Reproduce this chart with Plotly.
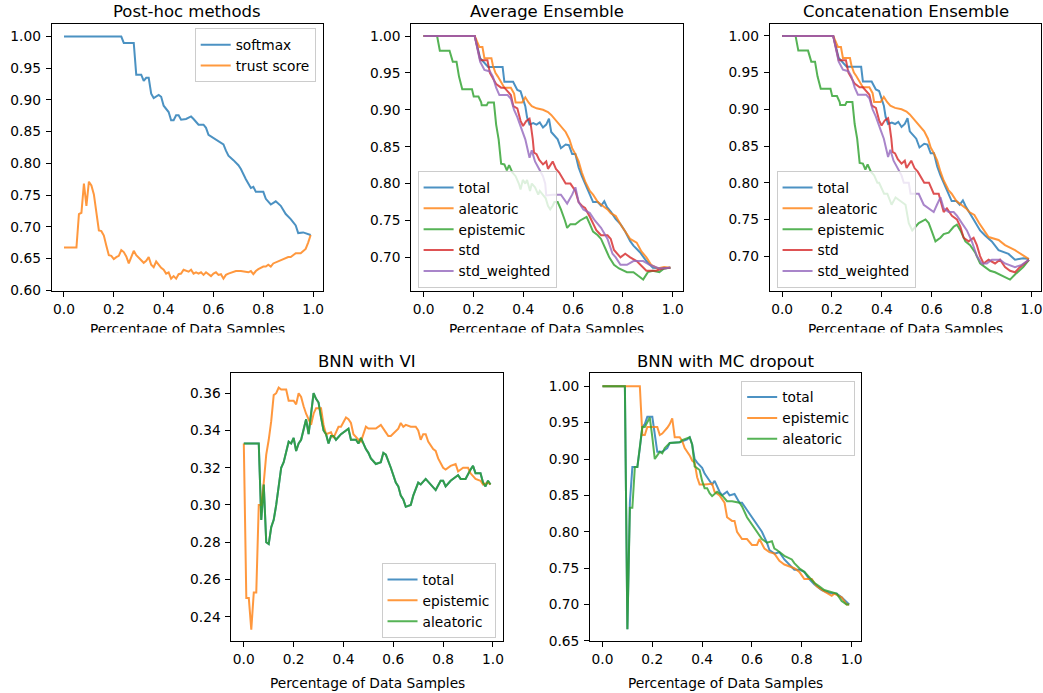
import plotly.graph_objects as go

# ---------------- data ----------------
x_ticks = [0.0, 0.2, 0.4, 0.6, 0.8, 1.0]
x_label = "Percentage of Data Samples"

# Post-hoc methods
ph_softmax = [(0, 1.0), (0.23, 1.0), (0.24, 0.99), (0.28, 0.99), (0.29, 0.94), (0.31, 0.94), (0.32, 0.93), (0.33, 0.935),
              (0.34, 0.935), (0.35, 0.91), (0.36, 0.903), (0.38, 0.908), (0.39, 0.905), (0.40, 0.891), (0.42, 0.881),
              (0.43, 0.868), (0.44, 0.868), (0.45, 0.876), (0.46, 0.876), (0.47, 0.869), (0.49, 0.870), (0.51, 0.874),
              (0.52, 0.870), (0.53, 0.866), (0.54, 0.861), (0.56, 0.861), (0.57, 0.856), (0.58, 0.845), (0.60, 0.840),
              (0.61, 0.837), (0.63, 0.832), (0.64, 0.830), (0.65, 0.820), (0.66, 0.812), (0.68, 0.805), (0.70, 0.797),
              (0.71, 0.791), (0.72, 0.782), (0.73, 0.775), (0.75, 0.761), (0.76, 0.763), (0.77, 0.755), (0.80, 0.755),
              (0.81, 0.744), (0.83, 0.735), (0.85, 0.740), (0.87, 0.733), (0.89, 0.720), (0.91, 0.712), (0.93, 0.702),
              (0.94, 0.690), (0.96, 0.691), (0.97, 0.690), (0.98, 0.689), (0.99, 0.687)]
ph_trust = [(0, 0.667), (0.05, 0.667), (0.06, 0.720), (0.07, 0.722), (0.08, 0.768), (0.09, 0.733), (0.10, 0.771),
            (0.11, 0.765), (0.12, 0.751), (0.13, 0.725), (0.14, 0.694), (0.15, 0.693), (0.16, 0.686), (0.17, 0.670),
            (0.18, 0.655), (0.19, 0.654), (0.20, 0.649), (0.21, 0.652), (0.22, 0.654), (0.23, 0.663), (0.24, 0.660),
            (0.25, 0.653), (0.26, 0.642), (0.27, 0.652), (0.28, 0.662), (0.29, 0.655), (0.30, 0.651), (0.31, 0.648),
            (0.32, 0.643), (0.33, 0.646), (0.34, 0.652), (0.35, 0.640), (0.36, 0.636), (0.37, 0.645), (0.38, 0.640),
            (0.39, 0.635), (0.40, 0.632), (0.41, 0.626), (0.42, 0.628), (0.43, 0.618), (0.44, 0.622), (0.45, 0.618),
            (0.46, 0.625), (0.47, 0.626), (0.48, 0.632), (0.49, 0.631), (0.50, 0.629), (0.51, 0.632), (0.52, 0.626),
            (0.53, 0.628), (0.54, 0.626), (0.55, 0.628), (0.56, 0.624), (0.57, 0.628), (0.58, 0.625), (0.59, 0.622),
            (0.60, 0.626), (0.61, 0.628), (0.62, 0.624), (0.63, 0.625), (0.64, 0.618), (0.65, 0.624), (0.66, 0.626),
            (0.68, 0.628), (0.69, 0.630), (0.71, 0.630), (0.73, 0.628), (0.74, 0.628), (0.75, 0.630), (0.76, 0.625),
            (0.77, 0.630), (0.78, 0.633), (0.80, 0.637), (0.81, 0.637), (0.82, 0.640), (0.83, 0.637), (0.84, 0.642),
            (0.86, 0.645), (0.88, 0.648), (0.90, 0.652), (0.91, 0.652), (0.93, 0.658), (0.95, 0.658), (0.97, 0.665),
            (0.98, 0.675), (0.99, 0.687)]

# Average Ensemble
avg_total = [(0, 1.0), (0.205, 1.0), (0.227, 0.970), (0.240, 0.965), (0.259, 0.958), (0.317, 0.958), (0.321, 0.950),
             (0.324, 0.938), (0.359, 0.938), (0.367, 0.932), (0.376, 0.927), (0.389, 0.925), (0.398, 0.915),
             (0.408, 0.905), (0.415, 0.890), (0.425, 0.880), (0.440, 0.882), (0.453, 0.880), (0.466, 0.883),
             (0.479, 0.876), (0.492, 0.880), (0.503, 0.888), (0.512, 0.870), (0.521, 0.866), (0.538, 0.860),
             (0.551, 0.848), (0.570, 0.853), (0.583, 0.852), (0.596, 0.840), (0.609, 0.840), (0.622, 0.822),
             (0.635, 0.810), (0.654, 0.795), (0.680, 0.775), (0.699, 0.775), (0.712, 0.770), (0.725, 0.776),
             (0.736, 0.768), (0.751, 0.762), (0.771, 0.752), (0.790, 0.745), (0.809, 0.735), (0.829, 0.722),
             (0.842, 0.716), (0.868, 0.707), (0.894, 0.695), (0.920, 0.686), (0.959, 0.685), (0.99, 0.686)]
avg_aleatoric = [(0, 1.0), (0.205, 1.0), (0.224, 0.985), (0.236, 0.985), (0.244, 0.970), (0.272, 0.970), (0.278, 0.960),
                 (0.288, 0.950), (0.298, 0.945), (0.311, 0.938), (0.324, 0.930), (0.350, 0.930), (0.363, 0.922),
                 (0.369, 0.910), (0.395, 0.910), (0.408, 0.917), (0.421, 0.910), (0.434, 0.905), (0.453, 0.902),
                 (0.479, 0.900), (0.499, 0.897), (0.512, 0.893), (0.531, 0.885), (0.551, 0.878), (0.570, 0.870),
                 (0.585, 0.860), (0.596, 0.848), (0.609, 0.840), (0.622, 0.830), (0.635, 0.815), (0.648, 0.803),
                 (0.667, 0.790), (0.680, 0.785), (0.699, 0.775), (0.719, 0.770), (0.738, 0.765), (0.751, 0.760),
                 (0.771, 0.756), (0.790, 0.745), (0.809, 0.735), (0.829, 0.725), (0.855, 0.720), (0.874, 0.708),
                 (0.894, 0.700), (0.913, 0.690), (0.939, 0.685), (0.965, 0.687), (0.99, 0.686)]
avg_epistemic = [(0, 1.0), (0.054, 1.0), (0.065, 0.980), (0.104, 0.980), (0.117, 0.965), (0.132, 0.965), (0.142, 0.945),
                 (0.155, 0.928), (0.194, 0.928), (0.201, 0.918), (0.220, 0.918), (0.231, 0.910), (0.233, 0.906),
                 (0.253, 0.906), (0.259, 0.910), (0.282, 0.910), (0.285, 0.900), (0.291, 0.880), (0.301, 0.860),
                 (0.306, 0.840), (0.311, 0.827), (0.324, 0.826), (0.334, 0.818), (0.343, 0.825), (0.356, 0.815),
                 (0.369, 0.810), (0.382, 0.800), (0.389, 0.792), (0.398, 0.805), (0.408, 0.800), (0.415, 0.805),
                 (0.427, 0.790), (0.434, 0.800), (0.447, 0.795), (0.460, 0.785), (0.466, 0.790), (0.479, 0.785),
                 (0.490, 0.780), (0.499, 0.770), (0.508, 0.765), (0.518, 0.770), (0.525, 0.775), (0.538, 0.775),
                 (0.551, 0.765), (0.567, 0.750), (0.576, 0.740), (0.589, 0.745), (0.609, 0.745), (0.628, 0.750),
                 (0.654, 0.755), (0.667, 0.745), (0.680, 0.735), (0.699, 0.730), (0.712, 0.725), (0.732, 0.710),
                 (0.745, 0.700), (0.764, 0.690), (0.784, 0.685), (0.816, 0.680), (0.842, 0.680), (0.861, 0.675),
                 (0.881, 0.670), (0.900, 0.680), (0.920, 0.682), (0.946, 0.680), (0.965, 0.685), (0.99, 0.686)]
avg_std = [(0, 1.0), (0.205, 1.0), (0.227, 0.967), (0.256, 0.967), (0.266, 0.950), (0.278, 0.942), (0.291, 0.935),
           (0.311, 0.930), (0.324, 0.930), (0.350, 0.920), (0.360, 0.905), (0.376, 0.902), (0.389, 0.885),
           (0.399, 0.878), (0.412, 0.885), (0.425, 0.888), (0.430, 0.880), (0.438, 0.860), (0.443, 0.842),
           (0.453, 0.840), (0.464, 0.832), (0.479, 0.826), (0.492, 0.830), (0.499, 0.820), (0.518, 0.830),
           (0.531, 0.820), (0.544, 0.815), (0.570, 0.800), (0.589, 0.800), (0.609, 0.790), (0.622, 0.775),
           (0.635, 0.770), (0.648, 0.767), (0.667, 0.755), (0.680, 0.745), (0.693, 0.737), (0.712, 0.730),
           (0.738, 0.730), (0.751, 0.725), (0.764, 0.710), (0.790, 0.700), (0.809, 0.705), (0.829, 0.700),
           (0.855, 0.695), (0.894, 0.682), (0.933, 0.682), (0.959, 0.685), (0.99, 0.686)]
avg_std_w = [(0, 1.0), (0.205, 1.0), (0.227, 0.965), (0.244, 0.954), (0.266, 0.952), (0.278, 0.945), (0.291, 0.930),
             (0.304, 0.920), (0.337, 0.920), (0.350, 0.915), (0.363, 0.900), (0.376, 0.890), (0.395, 0.872),
             (0.408, 0.860), (0.425, 0.835), (0.434, 0.845), (0.447, 0.830), (0.464, 0.820), (0.479, 0.810),
             (0.488, 0.800), (0.492, 0.784), (0.518, 0.785), (0.551, 0.785), (0.576, 0.773), (0.596, 0.785),
             (0.609, 0.795), (0.622, 0.775), (0.641, 0.765), (0.667, 0.760), (0.687, 0.750), (0.712, 0.740),
             (0.738, 0.725), (0.758, 0.705), (0.771, 0.700), (0.790, 0.690), (0.816, 0.690), (0.842, 0.695),
             (0.881, 0.695), (0.907, 0.690), (0.946, 0.685), (0.99, 0.686)]

# Concatenation Ensemble
cat_total = avg_total[:-11] + [(0.768, 0.750), (0.794, 0.735), (0.814, 0.728), (0.841, 0.720), (0.868, 0.708),
                               (0.908, 0.703), (0.934, 0.695), (0.967, 0.697), (0.99, 0.696)]
cat_aleatoric = avg_aleatoric[:-8] + [(0.809, 0.735), (0.828, 0.726), (0.868, 0.722), (0.894, 0.715),
                                      (0.934, 0.708), (0.961, 0.702), (0.99, 0.696)]
cat_epistemic = avg_epistemic[:27] + [(0.389, 0.800), (0.409, 0.785), (0.422, 0.785), (0.439, 0.770), (0.455, 0.780),
                                      (0.475, 0.775), (0.495, 0.770), (0.508, 0.745), (0.522, 0.735), (0.535, 0.740),
                                      (0.548, 0.745), (0.575, 0.750), (0.588, 0.745), (0.599, 0.735), (0.615, 0.720),
                                      (0.635, 0.725), (0.648, 0.730), (0.668, 0.732), (0.688, 0.740), (0.701, 0.743),
                                      (0.715, 0.735), (0.735, 0.720), (0.754, 0.715), (0.774, 0.705), (0.794, 0.690),
                                      (0.814, 0.685), (0.834, 0.680), (0.854, 0.678), (0.874, 0.675), (0.894, 0.672),
                                      (0.914, 0.668), (0.934, 0.675), (0.967, 0.685), (0.99, 0.695)]
cat_std = avg_std[:29] + [(0.608, 0.785), (0.628, 0.785), (0.648, 0.760), (0.661, 0.765), (0.681, 0.755),
                          (0.701, 0.750), (0.715, 0.740), (0.728, 0.725), (0.748, 0.720), (0.768, 0.725),
                          (0.781, 0.715), (0.794, 0.700), (0.808, 0.690), (0.828, 0.695), (0.854, 0.690),
                          (0.874, 0.695), (0.894, 0.685), (0.914, 0.680), (0.934, 0.678), (0.954, 0.685), (0.99, 0.695)]
cat_std_w = avg_std_w[:20] + [(0.508, 0.800), (0.515, 0.785), (0.548, 0.785), (0.568, 0.770), (0.588, 0.765),
                              (0.608, 0.760), (0.621, 0.770), (0.635, 0.780), (0.648, 0.765), (0.668, 0.760),
                              (0.688, 0.760), (0.701, 0.755), (0.721, 0.745), (0.741, 0.735), (0.761, 0.720),
                              (0.781, 0.700), (0.801, 0.690), (0.821, 0.690), (0.841, 0.695), (0.874, 0.695),
                              (0.894, 0.690), (0.934, 0.685), (0.961, 0.688), (0.99, 0.695)]

# BNN with VI
vi_aleatoric = [(0, 0.333), (0.06, 0.333), (0.07, 0.292), (0.08, 0.311), (0.09, 0.280), (0.10, 0.279), (0.11, 0.288),
                (0.12, 0.292), (0.13, 0.300), (0.14, 0.309), (0.15, 0.320), (0.16, 0.323), (0.18, 0.334), (0.19, 0.333),
                (0.20, 0.336), (0.21, 0.329), (0.22, 0.333), (0.23, 0.335), (0.25, 0.346), (0.26, 0.338), (0.27, 0.350),
                (0.28, 0.360), (0.29, 0.357), (0.30, 0.355), (0.31, 0.347), (0.32, 0.340), (0.33, 0.338), (0.34, 0.333),
                (0.35, 0.337), (0.36, 0.337), (0.37, 0.335), (0.39, 0.338), (0.42, 0.341), (0.43, 0.335), (0.45, 0.335),
                (0.46, 0.333), (0.47, 0.336), (0.48, 0.333), (0.49, 0.330), (0.50, 0.328), (0.51, 0.325), (0.53, 0.322),
                (0.55, 0.323), (0.56, 0.328), (0.57, 0.327), (0.59, 0.320), (0.61, 0.312), (0.62, 0.310), (0.63, 0.305),
                (0.64, 0.303), (0.65, 0.299), (0.67, 0.300), (0.68, 0.305), (0.70, 0.312), (0.71, 0.311), (0.73, 0.314),
                (0.75, 0.311), (0.77, 0.308), (0.79, 0.313), (0.80, 0.313), (0.81, 0.310), (0.83, 0.313), (0.85, 0.315),
                (0.86, 0.316), (0.87, 0.314), (0.89, 0.314), (0.91, 0.319), (0.92, 0.321), (0.93, 0.317), (0.95, 0.317),
                (0.96, 0.312), (0.97, 0.310), (0.98, 0.313), (0.99, 0.311)]
vi_total = list(vi_aleatoric)
vi_epistemic = [(0, 0.333), (0.01, 0.250), (0.02, 0.250), (0.03, 0.233), (0.04, 0.253), (0.05, 0.253), (0.06, 0.300),
                (0.07, 0.300), (0.08, 0.312), (0.09, 0.327), (0.10, 0.335), (0.11, 0.345), (0.12, 0.359), (0.13, 0.360),
                (0.14, 0.363), (0.15, 0.362), (0.17, 0.362), (0.18, 0.356), (0.20, 0.356), (0.21, 0.354), (0.22, 0.360),
                (0.23, 0.358), (0.24, 0.353), (0.25, 0.349), (0.27, 0.343), (0.28, 0.349), (0.29, 0.352), (0.31, 0.352),
                (0.32, 0.343), (0.33, 0.338), (0.35, 0.339), (0.36, 0.336), (0.38, 0.342), (0.39, 0.342), (0.41, 0.347),
                (0.42, 0.346), (0.43, 0.344), (0.44, 0.338), (0.46, 0.335), (0.47, 0.334), (0.49, 0.342), (0.50, 0.341),
                (0.53, 0.341), (0.55, 0.343), (0.57, 0.339), (0.58, 0.337), (0.59, 0.337), (0.61, 0.340), (0.62, 0.341),
                (0.63, 0.344), (0.64, 0.342), (0.65, 0.343), (0.67, 0.342), (0.69, 0.342), (0.70, 0.340), (0.71, 0.335),
                (0.72, 0.338), (0.73, 0.338), (0.74, 0.334), (0.76, 0.330), (0.77, 0.329), (0.78, 0.325), (0.80, 0.320),
                (0.81, 0.319), (0.83, 0.321), (0.85, 0.322), (0.86, 0.318), (0.88, 0.320), (0.90, 0.320), (0.91, 0.317),
                (0.93, 0.314), (0.95, 0.313), (0.96, 0.311), (0.98, 0.312), (0.99, 0.311)]

# BNN with MC dropout
mc_total = [(0, 1.0), (0.09, 1.0), (0.10, 0.666), (0.11, 0.840), (0.12, 0.889), (0.14, 0.889), (0.15, 0.915),
            (0.16, 0.944), (0.17, 0.948), (0.18, 0.958), (0.20, 0.958), (0.21, 0.930), (0.22, 0.910), (0.24, 0.910),
            (0.26, 0.915), (0.27, 0.922), (0.31, 0.923), (0.34, 0.927), (0.35, 0.930), (0.36, 0.920), (0.37, 0.900),
            (0.38, 0.895), (0.40, 0.888), (0.41, 0.880), (0.42, 0.875), (0.43, 0.870), (0.44, 0.865), (0.45, 0.870),
            (0.47, 0.855), (0.48, 0.850), (0.50, 0.855), (0.51, 0.850), (0.53, 0.852), (0.55, 0.840), (0.56, 0.840),
            (0.58, 0.830), (0.60, 0.820), (0.62, 0.810), (0.64, 0.800), (0.66, 0.785), (0.67, 0.775), (0.69, 0.770),
            (0.71, 0.772), (0.73, 0.762), (0.75, 0.755), (0.77, 0.748), (0.79, 0.748), (0.81, 0.745), (0.83, 0.735),
            (0.85, 0.728), (0.88, 0.720), (0.91, 0.716), (0.94, 0.715), (0.96, 0.710), (0.99, 0.700)]
mc_epistemic = [(0, 1.0), (0.15, 1.0), (0.16, 0.933), (0.17, 0.933), (0.18, 0.944), (0.22, 0.944), (0.23, 0.933),
                (0.24, 0.935), (0.26, 0.943), (0.27, 0.948), (0.28, 0.956), (0.29, 0.930), (0.31, 0.930), (0.32, 0.925),
                (0.33, 0.915), (0.35, 0.905), (0.36, 0.898), (0.37, 0.895), (0.38, 0.875), (0.39, 0.865), (0.41, 0.865),
                (0.44, 0.866), (0.45, 0.855), (0.47, 0.850), (0.49, 0.840), (0.50, 0.820), (0.52, 0.815), (0.53, 0.815),
                (0.54, 0.800), (0.56, 0.790), (0.58, 0.790), (0.60, 0.782), (0.62, 0.782), (0.63, 0.790), (0.65, 0.777),
                (0.67, 0.772), (0.69, 0.770), (0.71, 0.760), (0.73, 0.755), (0.77, 0.750), (0.79, 0.745), (0.81, 0.735),
                (0.84, 0.735), (0.86, 0.725), (0.89, 0.718), (0.92, 0.712), (0.93, 0.715), (0.96, 0.710), (0.98, 0.700),
                (0.99, 0.700)]
mc_aleatoric = [(0, 1.0), (0.09, 1.0), (0.10, 0.666), (0.11, 0.833), (0.12, 0.833), (0.13, 0.889), (0.14, 0.889),
                (0.15, 0.915), (0.16, 0.944), (0.17, 0.944), (0.18, 0.950), (0.19, 0.957), (0.20, 0.930), (0.21, 0.900),
                (0.22, 0.905), (0.23, 0.910), (0.24, 0.908), (0.25, 0.915), (0.27, 0.922), (0.31, 0.923), (0.32, 0.926),
                (0.34, 0.928), (0.35, 0.930), (0.36, 0.920), (0.37, 0.890), (0.39, 0.885), (0.40, 0.870), (0.41, 0.860),
                (0.42, 0.860), (0.43, 0.853), (0.44, 0.849), (0.46, 0.855), (0.48, 0.850), (0.50, 0.842), (0.52, 0.842),
                (0.55, 0.840), (0.56, 0.835), (0.58, 0.820), (0.60, 0.810), (0.62, 0.800), (0.64, 0.790), (0.66, 0.785),
                (0.68, 0.787), (0.69, 0.777), (0.70, 0.775), (0.73, 0.767), (0.76, 0.762), (0.77, 0.757), (0.79, 0.750),
                (0.81, 0.745), (0.83, 0.737), (0.85, 0.730), (0.87, 0.725), (0.89, 0.720), (0.91, 0.718), (0.94, 0.715),
                (0.96, 0.705), (0.98, 0.700), (0.99, 0.700)]

# ---------------- styling ----------------
W, H = 1043, 693
FONT = "DejaVu Sans"
C = ["#1f77b4", "#ff7f0e", "#2ca02c", "#d62728", "#9467bd"]

panels = [
    dict(title="Post-hoc methods", px=(51.7, 323.3), py=(24, 294.3), yr=[0.598, 1.0203], lab=38.5,
         yt=[0.60, 0.65, 0.70, 0.75, 0.80, 0.85, 0.90, 0.95, 1.00],
         series=[("softmax", ph_softmax, C[0]), ("trust score", ph_trust, C[1])],
         leg=dict(x=316, y=28.5, xanchor="right", yanchor="top")),
    dict(title="Average Ensemble", px=(411.7, 683.3), py=(24, 294.3), yr=[0.654, 1.0166], lab=38.5,
         yt=[0.70, 0.75, 0.80, 0.85, 0.90, 0.95, 1.00],
         series=[("total", avg_total, C[0]), ("aleatoric", avg_aleatoric, C[1]), ("epistemic", avg_epistemic, C[2]),
                 ("std", avg_std, C[3]), ("std_weighted", avg_std_w, C[4])],
         leg=dict(x=418, y=291, xanchor="left", yanchor="bottom")),
    dict(title="Concatenation Ensemble", px=(770.5, 1042.3), py=(24, 294.3), yr=[0.652, 1.0166], lab=38.5,
         yt=[0.70, 0.75, 0.80, 0.85, 0.90, 0.95, 1.00],
         series=[("total", cat_total, C[0]), ("aleatoric", cat_aleatoric, C[1]), ("epistemic", cat_epistemic, C[2]),
                 ("std", cat_std, C[3]), ("std_weighted", cat_std_w, C[4])],
         leg=dict(x=777.3, y=291, xanchor="left", yanchor="bottom")),
    dict(title="BNN with VI", px=(231.7, 503.3), py=(377.3, 648), yr=[0.2267, 0.3706], lab=42,
         yt=[0.24, 0.26, 0.28, 0.30, 0.32, 0.34, 0.36],
         series=[("total", vi_total, C[0]), ("epistemic", vi_epistemic, C[1]), ("aleatoric", vi_aleatoric, C[2])],
         leg=dict(x=496, y=644.5, xanchor="right", yanchor="bottom")),
    dict(title="BNN with MC dropout", px=(590.7, 862.3), py=(377.3, 648), yr=[0.6493, 1.0176], lab=42,
         yt=[0.65, 0.70, 0.75, 0.80, 0.85, 0.90, 0.95, 1.00],
         series=[("total", mc_total, C[0]), ("epistemic", mc_epistemic, C[1]), ("aleatoric", mc_aleatoric, C[2])],
         leg=dict(x=856, y=384.5, xanchor="right", yanchor="top")),
]

fig = go.Figure()
layout = dict(width=W, height=H, margin=dict(l=0, r=0, t=0, b=0), paper_bgcolor="white", plot_bgcolor="white",
              font=dict(family=FONT, size=13.75, color="black"), showlegend=True)
annotations = []

for i, p in enumerate(panels):
    n = "" if i == 0 else str(i + 1)
    xa, ya = "x" + n, "y" + n
    legname = "legend" + n
    for name, pts, col in p["series"]:
        fig.add_trace(go.Scatter(x=[a for a, _ in pts], y=[b for _, b in pts], mode="lines", name=name,
                                 line=dict(color=col, width=2), opacity=0.8, xaxis=xa, yaxis=ya,
                                 legend=legname, showlegend=True))
    axcommon = dict(showline=True, linecolor="black", linewidth=1, mirror=True, ticks="outside", ticklen=5,
                    tickwidth=1, tickcolor="black", showgrid=False, zeroline=False,
                    tickfont=dict(family=FONT, size=13.75, color="black"))
    layout["xaxis" + n] = dict(domain=[p["px"][0] / W, p["px"][1] / W], range=[-0.0495, 1.0395], anchor=ya,
                               tickmode="array", tickvals=x_ticks, ticktext=[f"{v:.1f}" for v in x_ticks], **axcommon)
    layout["yaxis" + n] = dict(domain=[1 - p["py"][1] / H, 1 - p["py"][0] / H], range=p["yr"], anchor=xa,
                               tickmode="array", tickvals=p["yt"], ticktext=[f"{v:.2f}" for v in p["yt"]],
                               ticklabelstandoff=2, **axcommon)
    lg = p["leg"]
    layout[legname] = dict(x=lg["x"] / W, y=1 - lg["y"] / H, xanchor=lg["xanchor"], yanchor=lg["yanchor"],
                           bgcolor="rgba(255,255,255,0.8)", bordercolor="#cccccc", borderwidth=1,
                           font=dict(family=FONT, size=13.75, color="black"), itemwidth=30)
    cx = (p["px"][0] + p["px"][1]) / 2 / W
    annotations.append(dict(text=p["title"], x=cx, y=1 - (p["py"][0] - 12.5) / H, xref="paper", yref="paper",
                            xanchor="center", yanchor="middle", showarrow=False,
                            font=dict(family=FONT, size=16.5, color="black")))
    annotations.append(dict(text=x_label, x=cx, y=1 - (p["py"][1] + p["lab"]) / H, xref="paper", yref="paper",
                            xanchor="center", yanchor="middle", showarrow=False,
                            font=dict(family=FONT, size=13.75, color="black")))

# white band that trims the lower part of the top-row axis labels
annotations.append(dict(text=" ", x=0.5, y=1 - 335 / H, xref="paper", yref="paper", xanchor="center", yanchor="top",
                        width=W, height=16, bgcolor="white", showarrow=False, borderpad=0))
layout["annotations"] = annotations
fig.update_layout(**layout)
fig.write_html("out.html", config={"displayModeBar": False},
               post_script="document.body.style.margin='0px';")
